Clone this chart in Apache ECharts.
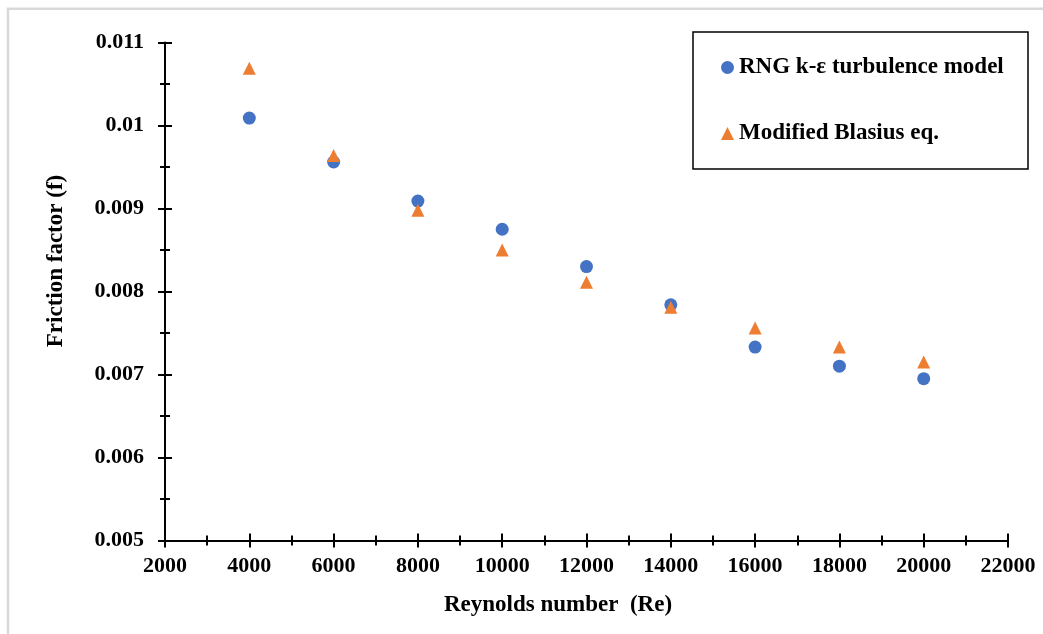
<!DOCTYPE html>
<html><head><meta charset="utf-8">
<script src="https://cdn.jsdelivr.net/npm/echarts@6/dist/echarts.min.js"></script>
<style>html,body{margin:0;padding:0;background:#fff}#c{width:1043px;height:634px}</style>
</head><body><div id="c"></div>
<script>
const reynolds = [4000, 6000, 8000, 10000, 12000, 14000, 16000, 18000, 20000];
const rngKe   = [0.01009, 0.00956, 0.00909, 0.00875, 0.00830, 0.00784, 0.00733, 0.00710, 0.00695];
const blasius = [0.01069, 0.00964, 0.00898, 0.00850, 0.00811, 0.00781, 0.00756, 0.00733, 0.00715];
const xTickLabels = ['2000','4000','6000','8000','10000','12000','14000','16000','18000','20000','22000'];
const yTickLabels = ['0.005','0.006','0.007','0.008','0.009','0.01','0.011'];
const seriesNames = ['RNG k-ε turbulence model', 'Modified Blasius eq.'];
const xTitle = 'Reynolds number  (Re)';
const yTitle = 'Friction factor (f)';

const FONT = '"Liberation Serif","Times New Roman",serif';
const findLabel = (arr, v) => arr.find(l => Math.abs(parseFloat(l) - v) < 1e-9) || '';
const tickCommon = {lineStyle: {color: '#000', width: 2}};

const chart = echarts.init(document.getElementById('c'), null, {renderer: 'canvas'});
chart.setOption({
  backgroundColor: '#fff',
  animation: false,
  grid: {left: 165, right: 35, top: 42.5, bottom: 93.5, containLabel: false},
  xAxis: [{
    type: 'value', min: 2000, max: 22000, interval: 2000,
    axisLine: {show: true, onZero: false, lineStyle: {color: '#000', width: 2}},
    axisTick: {show: true, length: 7, ...tickCommon},
    minorTick: {show: true, splitNumber: 2, length: 5, ...tickCommon},
    splitLine: {show: false},
    axisLabel: {color: '#000', fontFamily: FONT, fontWeight: 'bold', fontSize: 22, margin: 15,
      formatter: v => findLabel(xTickLabels, v)}
  }, {
    type: 'value', position: 'bottom', min: 2000, max: 22000, interval: 2000,
    axisLine: {show: false},
    axisTick: {show: true, inside: true, length: 7, ...tickCommon},
    minorTick: {show: true, splitNumber: 2, length: 5, ...tickCommon},
    splitLine: {show: false}, axisLabel: {show: false}
  }],
  yAxis: [{
    type: 'value', min: 0.005, max: 0.011, interval: 0.001,
    axisLine: {show: true, onZero: false, lineStyle: {color: '#000', width: 2}},
    axisTick: {show: true, length: 7, ...tickCommon},
    minorTick: {show: true, splitNumber: 2, length: 5, ...tickCommon},
    splitLine: {show: false},
    axisLabel: {color: '#000', fontFamily: FONT, fontWeight: 'bold', fontSize: 22, margin: 21,
      formatter: v => findLabel(yTickLabels, v)}
  }, {
    type: 'value', position: 'left', min: 0.005, max: 0.011, interval: 0.001,
    axisLine: {show: false},
    axisTick: {show: true, inside: true, length: 7, ...tickCommon},
    minorTick: {show: true, splitNumber: 2, length: 5, ...tickCommon},
    splitLine: {show: false}, axisLabel: {show: false}
  }],
  legend: {
    orient: 'vertical', left: 716, top: 51, itemGap: 43, itemWidth: 13, itemHeight: 13,
    textStyle: {color: '#000', fontFamily: FONT, fontWeight: 'bold', fontSize: 23},
    data: [{name: seriesNames[0], icon: 'circle'}, {name: seriesNames[1], icon: 'triangle'}]
  },
  graphic: [
    {type: 'rect', silent: true, z: -1, shape: {x: 8, y: 8.7, width: 1200, height: 800},
      style: {fill: null, stroke: '#d9d9d9', lineWidth: 2.5}},
    {type: 'rect', silent: true, shape: {x: 693, y: 32, width: 335, height: 137},
      style: {fill: null, stroke: '#000', lineWidth: 1.5}},
    {type: 'text', x: 558, y: 605, style: {text: xTitle, font: 'bold 23px ' + FONT, fill: '#000',
      textAlign: 'center', textVerticalAlign: 'middle'}},
    {type: 'text', x: 56, y: 261, rotation: Math.PI / 2, style: {text: yTitle, font: 'bold 23px ' + FONT, fill: '#000',
      textAlign: 'center', textVerticalAlign: 'middle'}}
  ],
  series: [{
    name: seriesNames[0], type: 'scatter', symbol: 'circle', symbolSize: 13,
    itemStyle: {color: '#4472C4', opacity: 1},
    data: reynolds.map((x, i) => [x, rngKe[i]])
  }, {
    name: seriesNames[1], type: 'scatter', symbol: 'triangle', symbolSize: 13,
    itemStyle: {color: '#ED7D31', opacity: 1},
    data: reynolds.map((x, i) => [x, blasius[i]])
  }]
});
</script>
</body></html>
